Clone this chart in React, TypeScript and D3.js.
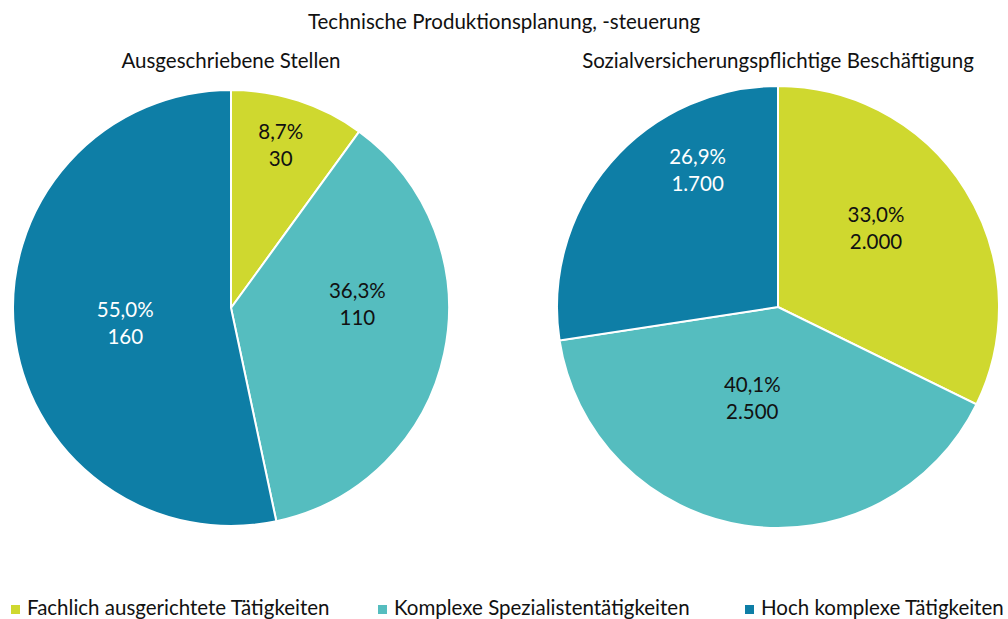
import React from "react";
import * as d3 from "d3";

const categories = [
  "Fachlich ausgerichtete Tätigkeiten",
  "Komplexe Spezialistentätigkeiten",
  "Hoch komplexe Tätigkeiten",
];
const colors = ["#cfd82f", "#55bdbf", "#0e7ea6"];
const labelColors = ["#111", "#111", "#fff"];

// Ausgeschriebene Stellen
const leftPercent = [8.7, 36.3, 55.0];
const leftCount = [30, 110, 160];
// Sozialversicherungspflichtige Beschäftigung
const rightPercent = [33.0, 40.1, 26.9];
const rightCount = [2000, 2500, 1700];

const W = 1008;
const H = 619;
const font = "Lato, 'Open Sans', sans-serif";
const fs = 20.5;

const fmtCount = (v: number) => d3.format(",")(v).replace(/,/g, ".");
const fmtPct = (v: number) => d3.format(".1f")(v).replace(".", ",") + "%";

type PieProps = {
  cx: number;
  cy: number;
  r: number;
  title: string;
  percent: number[];
  counts: number[];
  labelFrac: number[];
  labelNudge: number[]; // degrees, label placement like the Excel best-fit
};

function Pie({ cx, cy, r, title, percent, counts, labelFrac, labelNudge }: PieProps) {
  const pie = d3.pie<number>().sort(null).value((d) => d);
  const arcs = pie(counts);
  const arc = d3.arc<d3.PieArcDatum<number>>().innerRadius(0).outerRadius(r);
  return (
    <g transform={`translate(${cx},${cy})`}>
      <text x={0} y={68 - cy} textAnchor="middle" fontSize={fs} fill="#111">
        {title}
      </text>
      {arcs.map((a, i) => (
        <path key={i} d={arc(a) || ""} fill={colors[i]} stroke="#fff" strokeWidth={2} />
      ))}
      {arcs.map((a, i) => {
        const ang = (a.startAngle + a.endAngle) / 2 + (labelNudge[i] * Math.PI) / 180;
        const rr = r * labelFrac[i];
        const x = Math.sin(ang) * rr;
        const y = -Math.cos(ang) * rr;
        return (
          <g key={i} fontSize={fs} fill={labelColors[i]} textAnchor="middle">
            <text x={x} y={y - 6}>{fmtPct(percent[i])}</text>
            <text x={x} y={y + 21}>{fmtCount(counts[i])}</text>
          </g>
        );
      })}
    </g>
  );
}

export default function App() {
  const legendX = d3.scalePoint<string>().domain(categories).range([11, 745]);
  return (
    <svg width={W} height={H} style={{ position: "absolute", left: 0, top: 0, background: "#fff" }} fontFamily={font}>
      <text x={504} y={29} textAnchor="middle" fontSize={fs} fill="#111">
        Technische Produktionsplanung, -steuerung
      </text>
      <Pie cx={231} cy={308} r={218} title="Ausgeschriebene Stellen" percent={leftPercent} counts={leftCount}
        labelFrac={[0.78, 0.58, 0.49]} labelNudge={[-1, -14, -2]} />
      <Pie cx={778} cy={307} r={221} title="Sozialversicherungspflichtige Beschäftigung" percent={rightPercent} counts={rightCount}
        labelFrac={[0.57, 0.43, 0.72]} labelNudge={[-7, 7, 19]} />
      {categories.map((c, i) => (
        <g key={c} transform={`translate(${legendX(c)},0)`}>
          <rect x={0} y={605} width={9} height={9} fill={colors[i]} />
          <text x={16} y={615} fontSize={fs} fill="#111">{c}</text>
        </g>
      ))}
    </svg>
  );
}
